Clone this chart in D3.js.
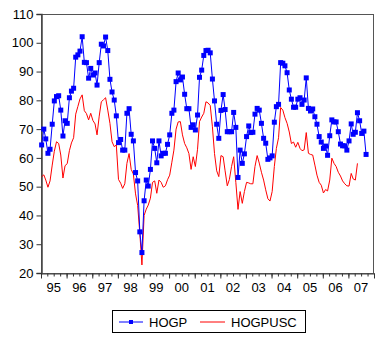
<!DOCTYPE html>
<html><head><meta charset="utf-8">
<script src="https://cdn.jsdelivr.net/npm/d3@7"></script>
<style>html,body{margin:0;padding:0;background:#fff;}svg{display:block;font-family:"Liberation Sans",Arial,sans-serif;}</style>
</head><body><svg id="c" width="375" height="337"></svg>
<script>
const startYear = 1995;
const yearLabels = ["95","96","97","98","99","00","01","02","03","04","05","06","07"];
const yTicks = [20,30,40,50,60,70,80,90,100,110];
const seriesNames = ["HOGP","HOGPUSC"];
const hogp = [64.5,70,66.6,61.6,63,71.7,79.8,81.3,81.6,76.6,67.6,72.9,
72,80.9,83.2,84.2,95,95.8,97.1,102.1,93.2,93.1,87.7,91.1,
88.8,89.5,85.3,93.1,99.5,98.9,102,97.3,87.3,82.9,80.1,74.6,
65.3,66.4,62.7,62.7,75.5,77.1,68.2,65.9,54.9,52,34.3,27.1,
45.1,52.3,50.2,56,65.9,63.3,58.3,65.9,60.7,61.6,61.6,64.7,
68,75.5,76.6,86.5,89.5,87.1,88.1,82.1,77.1,77.1,70.6,71.5,
69.7,74.9,88,90.5,95.6,97.3,97.4,96.5,87.4,79.8,71.7,66.8,
76.5,82,76.8,69.1,69.1,69.1,75.8,70.6,53.2,62.7,58.1,61.4,
67.4,71.1,68.8,68.9,75.2,77.2,76.6,72,66.8,65.1,59.5,60,
60.7,72.4,77.8,78.6,93.1,92.9,92,89.6,83.6,80.4,77.6,77.6,
80.4,80.9,78.6,80.1,87.8,77.2,76.3,77,74.3,71.7,67.4,65.5,
63.3,64.1,60.9,67.7,73.2,72.5,72.5,69.1,64.8,64.2,64.2,62.7,
65.9,71.8,68.2,68.9,75.7,72.9,68.5,69.3,61.2];
const hogpusc = [53.4,54.1,52.3,49.8,52,57.5,62.3,65.6,65,61,53,57.3,
58,62.5,65.2,67,75.2,77.9,80.5,81.9,76.4,75.4,73.2,75.5,
73,71.8,68,74.5,79.5,80.2,80.9,76.6,72,65.6,63.9,64.5,
52.5,51.2,49.4,51,58.1,61.5,56,54.4,47.5,43.5,33.8,22.8,
40,42.2,43.6,46,51.5,52,47.7,52.3,51.5,49.8,50.3,52.4,
54,58.5,62.7,70,72.5,72.6,68,65,63.5,61.5,56,60.4,
57,63,72.6,74.2,75.5,79.5,79.1,78.2,70.8,61.5,55.5,53.5,
60.8,60.4,55.5,50.3,52.5,57,60.4,51.5,42.1,48.3,44.2,48.3,
51.5,51.3,51,51,57,60.8,58.2,55,52.3,48.9,45.8,45,
48.3,57,63.3,67,77.5,76.6,74,72,69,65,65.5,63.7,
65.4,63.3,62.5,62.8,68.8,61.6,61.2,61,57.5,54,51.5,50.5,
47.8,49,48.5,52.3,59.9,58.1,57,55,53.7,52,51,50.3,
50.2,54.6,52.7,52.3,58.1];

const toDate = i => new Date(startYear + Math.floor(i/12), i%12, 10);
const L=41, R=374, T=14, B=273;
const svg = d3.select("#c");
const x = d3.scaleTime().domain([new Date(1995,0,1), new Date(2008,0,1)]).range([L,R]);
const y = d3.scaleLinear().domain([20,110]).range([B,T]);

// frame
svg.append("rect").attr("x",L+0.5).attr("y",T+0.5).attr("width",R-L-1).attr("height",B-T).attr("fill","none").attr("stroke","#555").attr("stroke-width",1);

// y axis
const ya = svg.append("g").attr("transform",`translate(${L+0.5},0)`)
  .call(d3.axisLeft(y).tickValues(yTicks).tickSize(5).tickPadding(3));
ya.select(".domain").attr("stroke","#444").attr("stroke-width",1.5);
ya.selectAll(".tick line").attr("stroke","#333");
ya.selectAll("text").attr("font-size",13).attr("fill","#000").attr("font-family","Liberation Sans, Arial, sans-serif");

// x axis minor (quarters)
const xm = svg.append("g").attr("transform",`translate(0,${B+0.5})`)
  .call(d3.axisBottom(x).ticks(d3.timeMonth.every(3)).tickSize(3).tickFormat(""));
xm.select(".domain").attr("stroke","#444");
xm.selectAll(".tick line").attr("stroke","#333");
const xM = svg.append("g").attr("transform",`translate(0,${B+0.5})`)
  .call(d3.axisBottom(x).ticks(d3.timeYear.every(1)).tickSize(5).tickFormat(""));
xM.select(".domain").remove();
xM.selectAll(".tick line").attr("stroke","#333");
svg.append("g").selectAll("text").data(yearLabels).join("text")
  .attr("x",(d,i)=>x(new Date(startYear+i,6,1)))
  .attr("y",292).attr("text-anchor","middle").attr("font-size",13).text(d=>d);

// lines
const line = d3.line().x((d,i)=>x(toDate(i))).y(d=>y(d));
svg.append("path").datum(hogpusc).attr("d",line).attr("fill","none").attr("stroke","#ff0000").attr("stroke-width",1);
svg.append("path").datum(hogp).attr("d",line).attr("fill","none").attr("stroke","#0000ff").attr("stroke-width",1);
const ms = 5;
svg.append("g").selectAll("rect").data(hogp).join("rect")
  .attr("x",(d,i)=>x(toDate(i))-ms/2).attr("y",d=>y(d)-ms/2)
  .attr("width",ms).attr("height",ms).attr("fill","#0000ff");

// legend
const lg = svg.append("g");
lg.append("rect").attr("x",112.5).attr("y",310.5).attr("width",193).attr("height",22).attr("fill","#fff").attr("stroke","#000");
lg.append("line").attr("x1",119).attr("x2",143).attr("y1",322).attr("y2",322).attr("stroke","#0000ff");
lg.append("rect").attr("x",131-2).attr("y",322-2).attr("width",4).attr("height",4).attr("fill","#0000ff");
lg.append("text").attr("x",149).attr("y",326.5).attr("font-size",13).text(seriesNames[0]);
lg.append("line").attr("x1",200).attr("x2",225).attr("y1",322).attr("y2",322).attr("stroke","#ff0000");
lg.append("text").attr("x",231).attr("y",326.5).attr("font-size",13).text(seriesNames[1]);
</script></body></html>
